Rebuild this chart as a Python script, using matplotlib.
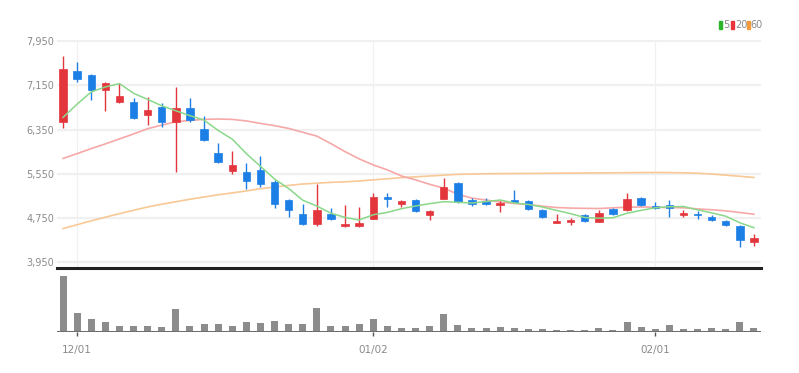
import matplotlib
matplotlib.use("Agg")
import matplotlib.pyplot as plt
from matplotlib.patches import Rectangle

FONT = ['Liberation Sans Narrow', 'DejaVu Sans']

# ---- data ----
tick_pos = [1, 22, 42]
tick_labels = ["12/01", "01/02", "02/01"]
price_ticks = [3950, 4750, 5550, 6350, 7150, 7950]

opens = [6489, 7407, 7335, 7063, 6851, 6851, 6605, 6761, 6489, 6732,
         6357, 5917, 5602, 5584, 5615, 5403, 5072, 4819, 4638, 4831,
         4602, 4602, 4741, 5132, 5000, 5085, 4801, 5103, 5385, 5085,
         5054, 4994, 5072, 5060, 4904, 4669, 4687, 4801, 4679, 4909,
         4891, 5117, 4961, 4982, 4813, 4831, 4770, 4697, 4601, 4319]
highs = [7678, 7575, 7350, 7200, 7184, 6924, 6942, 6822, 7112, 6913,
         6592, 6098, 5964, 5747, 5869, 5430, 5090, 5000, 5374, 4940,
         4982, 4953, 5204, 5204, 5085, 5100, 4890, 5465, 5400, 5121,
         5121, 5050, 5253, 5070, 4920, 4831, 4759, 4820, 4891, 4930,
         5194, 5130, 5032, 5083, 4891, 4879, 4801, 4710, 4620, 4453]
lows = [6375, 7213, 6882, 6683, 6828, 6538, 6430, 6399, 5584, 6480,
        6140, 5740, 5555, 5266, 5313, 4940, 4770, 4620, 4602, 4720,
        4595, 4595, 4741, 4953, 4953, 4860, 4710, 5090, 5030, 4964,
        4990, 4860, 5040, 4900, 4750, 4665, 4632, 4680, 4670, 4800,
        4880, 4970, 4920, 4770, 4770, 4741, 4700, 4610, 4229, 4247]
closes = [7438, 7257, 7063, 7184, 6960, 6562, 6701, 6489, 6732, 6520,
          6158, 5765, 5706, 5421, 5374, 5012, 4904, 4650, 4891, 4728,
          4634, 4665, 5132, 5103, 5060, 4878, 4878, 5313, 5043, 5000,
          5000, 5025, 5043, 4909, 4770, 4699, 4723, 4692, 4849, 4819,
          5103, 4982, 4925, 4940, 4843, 4801, 4710, 4622, 4350, 4392]

ma5 = [6570, 6810, 7030, 7120, 7180, 7005, 6894, 6779, 6689, 6601,
       6520, 6333, 6176, 5914, 5685, 5456, 5283, 5072, 4966, 4837,
       4761, 4714, 4810, 4852, 4919, 4968, 5010, 5046, 5034, 5022,
       5047, 5076, 5022, 4995, 4949, 4889, 4829, 4759, 4747, 4756,
       4837, 4889, 4936, 4954, 4959, 4898, 4844, 4783, 4665, 4575]
ma20 = [5827, 5915, 6005, 6090, 6180, 6270, 6365, 6430, 6490, 6515,
        6533, 6540, 6533, 6505, 6460, 6420, 6370, 6300, 6230, 6095,
        5950, 5820, 5710, 5620, 5510, 5440, 5360, 5290, 5180, 5110,
        5075, 5040, 5012, 4994, 4965, 4940, 4930, 4925, 4922, 4935,
        4945, 4950, 4945, 4940, 4935, 4915, 4900, 4880, 4850, 4819]
ma60 = [4560, 4630, 4700, 4765, 4830, 4890, 4950, 5000, 5045, 5090,
        5130, 5170, 5204, 5240, 5280, 5310, 5340, 5365, 5380, 5395,
        5405, 5420, 5440, 5460, 5480, 5495, 5510, 5525, 5540, 5545,
        5550, 5553, 5555, 5556, 5558, 5560, 5562, 5564, 5566, 5568,
        5570, 5572, 5573, 5572, 5568, 5560, 5545, 5525, 5505, 5483]

volume = [5570, 1930, 1300, 970, 630, 630, 630, 530, 2270, 630,
          770, 770, 630, 970, 930, 1130, 800, 800, 2430, 570,
          630, 770, 1300, 630, 400, 400, 600, 1770, 730, 400,
          400, 470, 400, 270, 270, 200, 200, 200, 400, 200,
          970, 470, 270, 730, 270, 270, 400, 270, 970, 430]

ma_labels = ["5", "20", "60"]

# ---- styling ----
RED = '#e3363c'
BLUE = '#1c7fe6'
C5 = '#8ad88a'
C20 = '#f6a8a8'
C60 = '#f8c896'
LEG_COLORS = ['#2cb52c', '#e8343a', '#f29a3c']

W, H = 799, 373
fig = plt.figure(figsize=(W / 100, H / 100), dpi=100)
fig.patch.set_facecolor('white')

x0, x1 = 57, 761
def fx(px):
    return px / W
def fy(py):
    return 1 - py / H

n = len(closes)
xs = list(range(n))
xlim = (-0.43, 49.5)

# price axes
top_px, bot_px = 40, 268
ax = fig.add_axes([fx(x0), fy(bot_px), fx(x1) - fx(x0), fy(top_px) - fy(bot_px)])
px_per_unit = (262.3 - 41) / 4000.0
ax.set_ylim(3950 - (bot_px - 262.3) / px_per_unit, 7950 + (41 - top_px) / px_per_unit)
ax.set_xlim(*xlim)
for s in ax.spines.values():
    s.set_visible(False)
for p in price_ticks:
    ax.axhline(p, color='#f0f0f0', lw=1.6, zorder=0)
for t in tick_pos:
    ax.axvline(t, color='#f0f0f0', lw=0.9, zorder=0)

ax.plot(xs, ma60, color=C60, lw=1.2, zorder=1)
ax.plot(xs, ma20, color=C20, lw=1.2, zorder=1)

for i in xs:
    o, h, l, c = opens[i], highs[i], lows[i], closes[i]
    col = RED if c >= o else BLUE
    ax.vlines(i, l, h, color=col, lw=1.0, zorder=2)
    bot = min(o, c)
    ht = max(abs(c - o), 18)
    ax.bar(i, ht, bottom=bot, width=0.52, color=col, edgecolor=col, lw=0.5, zorder=3)

ax.plot(xs, ma5, color=C5, lw=1.1, zorder=4)

ax.set_yticks(price_ticks)
ax.set_yticklabels([f"{p:,}" for p in price_ticks], family=FONT, fontsize=7, color='#8a8a8a')
ax.tick_params(axis='y', length=0, pad=2)
ax.set_xticks([])

# volume axes
vtop, vbot = 268, 332
axv = fig.add_axes([fx(x0), fy(vbot), fx(x1) - fx(x0), fy(vtop) - fy(vbot)])
axv.set_xlim(*xlim)
axv.set_ylim(0, 6400)
for s in axv.spines.values():
    s.set_visible(False)
axv.bar(xs, volume, width=0.5, color='#8c8c8c', zorder=2)
axv.axhline(0, color='#6e6e6e', lw=2.2, zorder=3)
axv.axhline(6400, color='#222222', lw=2.2, zorder=3, clip_on=False)
axv.set_yticks([])
axv.set_xticks(tick_pos)
axv.set_xticklabels(tick_labels, family=FONT, fontsize=7.5, color='#8a8a8a')
axv.tick_params(axis='x', length=3, width=1, color='#555555', pad=6)

# legend (top right)
ly = 25
for xp, col, lab in zip([719, 731, 746.5], LEG_COLORS, ma_labels):
    fig.patches.append(Rectangle((fx(xp), fy(ly + 3.5)), 3 / W, 7 / H,
                                 transform=fig.transFigure, color=col, figure=fig))
    fig.text(fx(xp + 4), fy(ly), lab, family=FONT, fontsize=7, color='#8a8a8a',
             va='center', ha='left')

fig.savefig('out.png', dpi=100, facecolor='white')
